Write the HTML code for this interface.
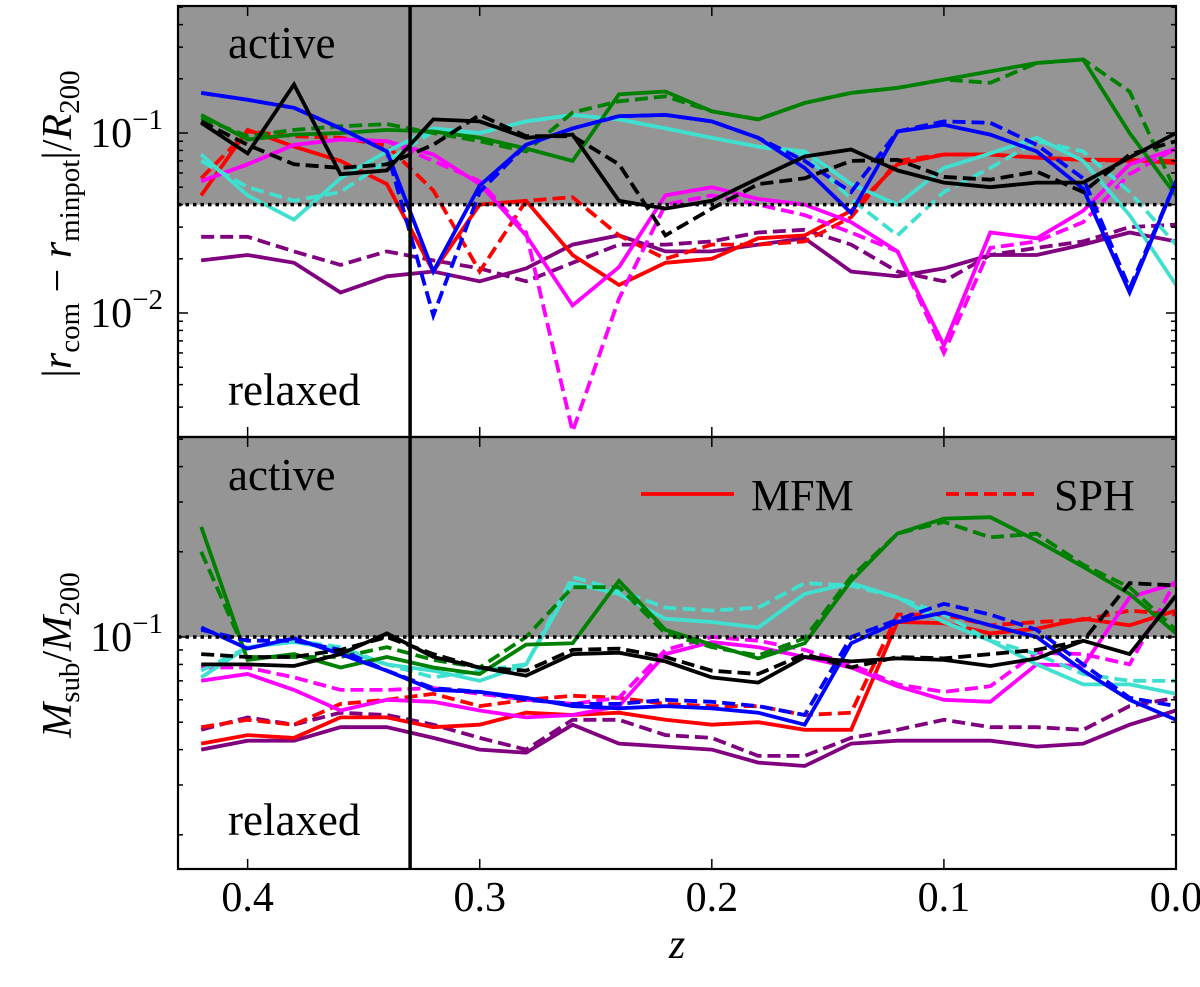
<!DOCTYPE html>
<html><head><meta charset="utf-8"><style>
html,body{margin:0;padding:0;background:#fff;}
svg, svg text, svg tspan{font-family:"Liberation Serif","DejaVu Serif","Times New Roman",serif !important;}
</style></head><body>
<svg id="chart" xmlns="http://www.w3.org/2000/svg" width="1200" height="982" viewBox="0 0 1200 982" font-family="Liberation Serif, DejaVu Serif, serif">
<defs>
<clipPath id="clipTop"><rect x="178" y="6" width="998" height="431"/></clipPath>
<clipPath id="clipBot"><rect x="178" y="437" width="998" height="432"/></clipPath>
</defs>
<g id="topShade"></g><g id="botShade"></g>
<g id="topLines" clip-path="url(#clipTop)"></g>
<g id="botLines" clip-path="url(#clipBot)"></g>
<g id="axes"></g>
<text x="228" y="58" font-size="45" font-family="Liberation Serif, serif">active</text>
<text x="228" y="405" font-size="45" font-family="Liberation Serif, serif">relaxed</text>
<text x="228" y="490" font-size="45" font-family="Liberation Serif, serif">active</text>
<text x="228" y="835" font-size="45" font-family="Liberation Serif, serif">relaxed</text>
<g>
<line x1="641" y1="494" x2="734" y2="494" stroke="#ff0000" stroke-width="3.8"/>
<text x="751" y="510" font-size="44" font-family="Liberation Serif, serif">MFM</text>
<line x1="946" y1="494" x2="1034" y2="494" stroke="#ff0000" stroke-width="3.8" stroke-dasharray="13,6"/>
<text x="1054" y="510" font-size="44" font-family="Liberation Serif, serif">SPH</text>
</g>
<text transform="translate(71,224) rotate(-90)" text-anchor="middle" font-size="42" font-family="Liberation Serif, serif"><tspan>|</tspan><tspan font-style="italic">r</tspan><tspan font-size="29" dy="8">com</tspan><tspan dy="-8"> − </tspan><tspan font-style="italic">r</tspan><tspan font-size="29" dy="8">minpot</tspan><tspan dy="-8">|/</tspan><tspan font-style="italic">R</tspan><tspan font-size="29" dy="8">200</tspan></text>
<text transform="translate(71,655) rotate(-90)" text-anchor="middle" font-size="42" font-family="Liberation Serif, serif"><tspan font-style="italic">M</tspan><tspan font-size="29" dy="8">sub</tspan><tspan dy="-8">/</tspan><tspan font-style="italic">M</tspan><tspan font-size="29" dy="8">200</tspan></text>
<text x="677" y="958" text-anchor="middle" font-size="42" font-style="italic" font-family="Liberation Serif, serif">z</text>
</svg>
<script>
const zs = [0.42,0.40,0.38,0.36,0.34,0.32,0.30,0.28,0.26,0.24,0.22,0.20,0.18,0.16,0.14,0.12,0.10,0.08,0.06,0.04,0.02,0.00];
const xTicks = [0.4,0.3,0.2,0.1,0.0];
const xTickLabels = ["0.4","0.3","0.2","0.1","0.0"];
const topThreshold = 0.04;
const botThreshold = 0.1;
const markerZ = 0.33;
// top panel: |r_com - r_minpot|/R200
const topRedMFM = [0.045,0.104,0.084,0.070,0.052,0.017,0.040,0.042,0.021,0.0143,0.019,0.020,0.026,0.027,0.037,0.067,0.076,0.076,0.073,0.071,0.071,0.068];
const topRedSPH = [0.056,0.102,0.096,0.094,0.085,0.048,0.017,0.042,0.044,0.027,0.020,0.024,0.024,0.025,0.034,0.070,0.076,0.076,0.073,0.071,0.070,0.070];
const topBlueMFM = [0.167,0.153,0.138,0.106,0.079,0.017,0.051,0.086,0.106,0.124,0.126,0.116,0.094,0.064,0.036,0.102,0.111,0.098,0.079,0.049,0.013,0.054];
const topBlueSPH = [0.167,0.153,0.138,0.106,0.079,0.0097,0.047,0.086,0.106,0.124,0.126,0.116,0.094,0.070,0.047,0.102,0.116,0.114,0.086,0.056,0.0137,0.054];
const topGreenMFM = [0.126,0.092,0.098,0.100,0.104,0.102,0.094,0.082,0.070,0.164,0.170,0.132,0.119,0.147,0.167,0.178,0.198,0.220,0.245,0.256,0.100,0.045];
const topGreenSPH = [0.121,0.096,0.104,0.109,0.112,0.100,0.090,0.079,0.130,0.150,0.160,0.132,0.119,0.147,0.167,0.178,0.198,0.190,0.245,0.256,0.170,0.047];
const topCyanMFM = [0.076,0.045,0.033,0.056,0.079,0.106,0.100,0.116,0.126,0.119,0.106,0.094,0.084,0.079,0.052,0.040,0.064,0.077,0.094,0.070,0.035,0.0143];
const topCyanSPH = [0.070,0.050,0.042,0.047,0.070,0.102,0.100,0.116,0.126,0.119,0.106,0.094,0.084,0.076,0.043,0.027,0.047,0.064,0.090,0.079,0.047,0.024];
const topMagMFM = [0.054,0.067,0.086,0.092,0.090,0.076,0.052,0.027,0.011,0.018,0.045,0.050,0.043,0.040,0.032,0.022,0.0066,0.028,0.026,0.037,0.067,0.082];
const topMagSPH = [0.054,0.067,0.086,0.092,0.090,0.070,0.054,0.028,0.0022,0.012,0.040,0.045,0.040,0.035,0.028,0.022,0.006,0.023,0.025,0.032,0.059,0.082];
const topBlackMFM = [0.114,0.077,0.186,0.059,0.062,0.119,0.116,0.094,0.098,0.042,0.038,0.042,0.056,0.074,0.081,0.062,0.053,0.050,0.053,0.053,0.073,0.100];
const topBlackSPH = [0.116,0.086,0.067,0.064,0.067,0.086,0.126,0.096,0.096,0.067,0.027,0.038,0.052,0.056,0.070,0.071,0.057,0.055,0.061,0.047,0.076,0.090];
const topPurpleMFM = [0.0196,0.021,0.019,0.013,0.016,0.017,0.015,0.0177,0.024,0.027,0.022,0.022,0.024,0.026,0.017,0.016,0.0177,0.021,0.021,0.024,0.028,0.025];
const topPurpleSPH = [0.0265,0.0265,0.022,0.0185,0.022,0.0196,0.0177,0.015,0.019,0.024,0.024,0.025,0.028,0.029,0.024,0.017,0.015,0.021,0.023,0.025,0.030,0.031];
// bottom panel: M_sub/M200
const botRedMFM = [0.042,0.045,0.044,0.052,0.052,0.048,0.049,0.054,0.053,0.054,0.051,0.049,0.050,0.047,0.047,0.113,0.112,0.103,0.107,0.116,0.110,0.124];
const botRedSPH = [0.048,0.051,0.049,0.058,0.060,0.063,0.057,0.060,0.062,0.061,0.058,0.057,0.057,0.053,0.054,0.120,0.120,0.110,0.113,0.115,0.124,0.120];
const botBlueMFM = [0.108,0.091,0.099,0.087,0.076,0.065,0.064,0.061,0.057,0.056,0.057,0.056,0.054,0.049,0.095,0.113,0.122,0.110,0.100,0.076,0.060,0.051];
const botBlueSPH = [0.106,0.097,0.097,0.090,0.076,0.066,0.064,0.060,0.058,0.058,0.060,0.059,0.057,0.053,0.100,0.115,0.131,0.120,0.106,0.080,0.061,0.057];
const botGreenMFM = [0.245,0.083,0.087,0.078,0.085,0.078,0.074,0.094,0.095,0.158,0.106,0.094,0.084,0.095,0.158,0.232,0.262,0.265,0.219,0.177,0.142,0.103];
const botGreenSPH = [0.200,0.085,0.085,0.085,0.092,0.083,0.078,0.100,0.150,0.150,0.103,0.092,0.086,0.099,0.163,0.232,0.255,0.225,0.232,0.180,0.150,0.106];
const botCyanMFM = [0.072,0.092,0.096,0.090,0.080,0.076,0.070,0.080,0.155,0.142,0.116,0.113,0.108,0.142,0.155,0.138,0.113,0.097,0.080,0.068,0.068,0.063];
const botCyanSPH = [0.076,0.092,0.097,0.092,0.080,0.072,0.076,0.080,0.163,0.146,0.127,0.124,0.127,0.155,0.152,0.138,0.120,0.097,0.087,0.074,0.070,0.070];
const botMagMFM = [0.070,0.074,0.065,0.055,0.060,0.059,0.055,0.052,0.053,0.057,0.087,0.096,0.092,0.085,0.078,0.067,0.060,0.059,0.080,0.079,0.138,0.155];
const botMagSPH = [0.078,0.078,0.072,0.065,0.065,0.066,0.063,0.060,0.058,0.061,0.090,0.100,0.097,0.090,0.080,0.068,0.064,0.067,0.088,0.087,0.080,0.158];
const botBlackMFM = [0.080,0.080,0.079,0.087,0.103,0.085,0.078,0.073,0.087,0.088,0.082,0.072,0.069,0.085,0.082,0.084,0.083,0.079,0.084,0.097,0.087,0.140];
const botBlackSPH = [0.087,0.085,0.085,0.090,0.100,0.087,0.078,0.076,0.090,0.091,0.085,0.076,0.074,0.087,0.078,0.085,0.084,0.087,0.090,0.097,0.155,0.152];
const botPurpleMFM = [0.040,0.043,0.043,0.048,0.048,0.044,0.040,0.039,0.049,0.042,0.041,0.040,0.036,0.035,0.042,0.043,0.043,0.043,0.041,0.042,0.049,0.055];
const botPurpleSPH = [0.047,0.052,0.049,0.054,0.053,0.049,0.044,0.040,0.051,0.051,0.045,0.044,0.038,0.038,0.044,0.047,0.051,0.048,0.048,0.047,0.057,0.061];

const NS = "http://www.w3.org/2000/svg";
const X0 = 178, X1 = 1176, ZL = 0.43, ZR = 0.0;
function xs(z){ return X0 + (ZL - z) / (ZL - ZR) * (X1 - X0); }
function yTop(v){ return 133 - (Math.log10(v) + 1) * 180; }
function yBot(v){ return 637 - (Math.log10(v) + 1) * 283; }
function mk(tag, attrs, parent){ const e = document.createElementNS(NS, tag); for (const k in attrs) e.setAttribute(k, attrs[k]); parent.appendChild(e); return e; }

const topShade = document.getElementById('topShade');
const ts = mk('rect', {x:X0, y:6, width:X1-X0, height:yTop(topThreshold)-6, fill:'#959595'}, topShade);


const botShade = document.getElementById('botShade');
const bs = mk('rect', {x:X0, y:437, width:X1-X0, height:yBot(botThreshold)-437, fill:'#959595'}, botShade);



const series = [
 ['purple','#800080',topPurpleMFM,topPurpleSPH,botPurpleMFM,botPurpleSPH],
 ['red','#ff0000',topRedMFM,topRedSPH,botRedMFM,botRedSPH],
 ['magenta','#ff00ff',topMagMFM,topMagSPH,botMagMFM,botMagSPH],
 ['cyan','#40e0d0',topCyanMFM,topCyanSPH,botCyanMFM,botCyanSPH],
 ['green','#008000',topGreenMFM,topGreenSPH,botGreenMFM,botGreenSPH],
 ['blue','#0000ff',topBlueMFM,topBlueSPH,botBlueMFM,botBlueSPH],
 ['black','#000000',topBlackMFM,topBlackSPH,botBlackMFM,botBlackSPH]
];
function drawLine(parent, vals, yf, color, dashed, name){
  const d = vals.map((v,i)=>(i?'L':'M')+xs(zs[i]).toFixed(1)+','+yf(v).toFixed(1)).join(' ');
  const p = mk('path', {d:d, fill:'none', stroke:color, 'stroke-width':3.8, 'stroke-linejoin':'miter'}, parent);
  if (dashed) p.setAttribute('stroke-dasharray','13,6');
  
  
}
const topLines = document.getElementById('topLines');
const botLines = document.getElementById('botLines');
series.forEach(s=>{
  drawLine(topLines, s[2], yTop, s[1], false, 'top-'+s[0]+'-mfm-line');
  drawLine(topLines, s[3], yTop, s[1], true, 'top-'+s[0]+'-sph-line');
  drawLine(botLines, s[4], yBot, s[1], false, 'bottom-'+s[0]+'-mfm-line');
  drawLine(botLines, s[5], yBot, s[1], true, 'bottom-'+s[0]+'-sph-line');
});

const axes = document.getElementById('axes');
const t1 = mk('line', {x1:X0, x2:X1, y1:yTop(topThreshold), y2:yTop(topThreshold), stroke:'#000', 'stroke-width':3.5, 'stroke-dasharray':'3.5,4'}, axes);


const t2 = mk('line', {x1:X0, x2:X1, y1:yBot(botThreshold), y2:yBot(botThreshold), stroke:'#000', 'stroke-width':3.5, 'stroke-dasharray':'3.5,4'}, axes);


const vm = mk('line', {x1:xs(markerZ), x2:xs(markerZ), y1:6, y2:869, stroke:'#000', 'stroke-width':3.5}, axes);


[[6,437,'top'],[437,869,'bottom']].forEach(f=>{
  const r = mk('rect', {x:X0, y:f[0], width:X1-X0, height:f[1]-f[0], fill:'none', stroke:'#000', 'stroke-width':2.2}, axes);
  
  
  xTicks.forEach(z=>{
    const x = xs(z);
    mk('line', {x1:x, x2:x, y1:f[1], y2:f[1]-10, stroke:'#000', 'stroke-width':1.5}, axes);
    mk('line', {x1:x, x2:x, y1:f[0], y2:f[0]+10, stroke:'#000', 'stroke-width':1.5}, axes);
  });
});
function yTicks(yf, lo, hi, majors){
  for (let e=-3; e<=0; e++){
    for (let m=1; m<=9; m++){
      const v = m*Math.pow(10,e);
      const y = yf(v);
      if (y < lo+1 || y > hi-1) continue;
      const len = m===1 ? 10 : 5;
      mk('line', {x1:X0, x2:X0+len, y1:y, y2:y, stroke:'#000', 'stroke-width':1.5}, axes);
      mk('line', {x1:X1, x2:X1-len, y1:y, y2:y, stroke:'#000', 'stroke-width':1.5}, axes);
    }
  }
  majors.forEach(e=>{
    const y = yf(Math.pow(10,e));
    const t = mk('text', {x:163, y:y+14, 'text-anchor':'end', 'font-size':42, 'font-family':'Liberation Serif, serif'}, axes);
    
    
    t.textContent = '10';
    const s = mk('tspan', {dy:-18, 'font-size':29}, t);
    s.textContent = '−' + Math.abs(e);
  });
}
yTicks(yTop, 6, 437, [-1,-2]);
yTicks(yBot, 437, 869, [-1]);
xTicks.forEach((z,i)=>{
  const t = mk('text', {x:xs(z), y:911, 'text-anchor':'middle', 'font-size':42, 'font-family':'Liberation Serif, serif'}, axes);
  
  
  t.textContent = xTickLabels[i];
});
</script>
</body></html>
